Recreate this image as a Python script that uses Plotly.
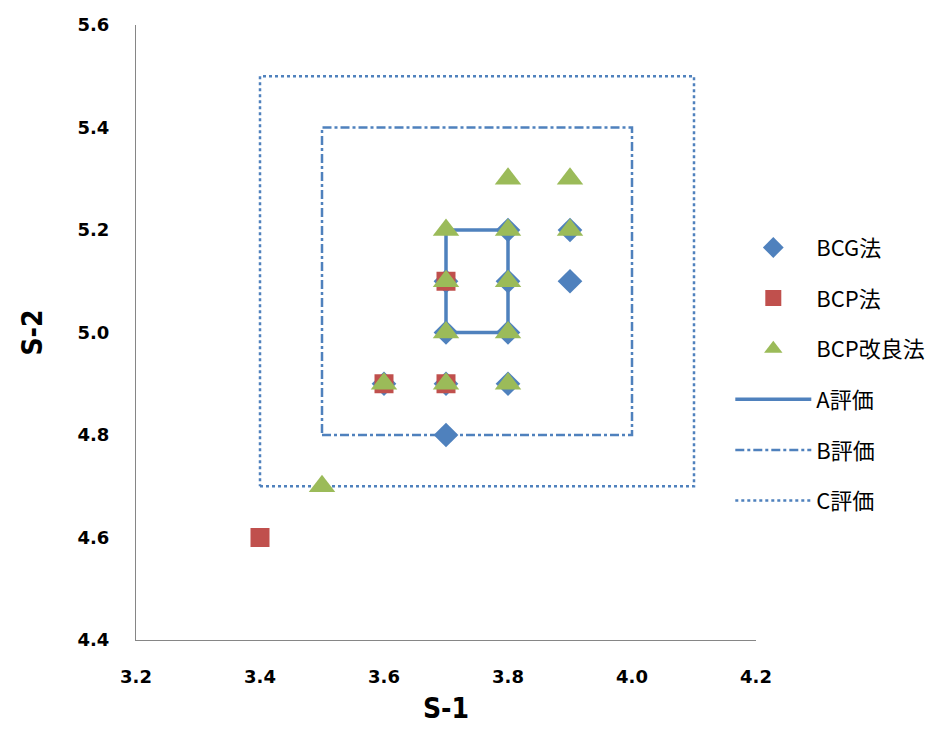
import plotly.graph_objects as go

# Data
bcg_x = [3.6, 3.7, 3.7, 3.7, 3.7, 3.8, 3.8, 3.8, 3.8, 3.9, 3.9]
bcg_y = [4.9, 4.8, 4.9, 5.0, 5.1, 4.9, 5.0, 5.1, 5.2, 5.1, 5.2]
bcp_x = [3.4, 3.6, 3.7, 3.7]
bcp_y = [4.6, 4.9, 4.9, 5.1]
bcpk_x = [3.5, 3.6, 3.7, 3.7, 3.7, 3.7, 3.8, 3.8, 3.8, 3.8, 3.8, 3.9, 3.9]
bcpk_y = [4.7, 4.9, 4.9, 5.0, 5.1, 5.2, 4.9, 5.0, 5.1, 5.2, 5.3, 5.2, 5.3]
a_x = [3.7, 3.8, 3.8, 3.7, 3.7]
a_y = [5.0, 5.0, 5.2, 5.2, 5.0]
b_x = [3.5, 4.0, 4.0, 3.5, 3.5]
b_y = [4.8, 4.8, 5.4, 5.4, 4.8]
c_x = [3.4, 4.1, 4.1, 3.4, 3.4]
c_y = [4.7, 4.7, 5.5, 5.5, 4.7]
x_ticks = [3.2, 3.4, 3.6, 3.8, 4.0, 4.2]
y_ticks = [4.4, 4.6, 4.8, 5.0, 5.2, 5.4, 5.6]

BLUE = "#4F81BD"
RED = "#C0504D"
GREEN = "#9BBB59"

fig = go.Figure()
fig.add_trace(go.Scatter(x=a_x, y=a_y, mode="lines", name="A評価", legendgroup="a",
                         legendrank=4, line=dict(color=BLUE, width=3.5)))
fig.add_trace(go.Scatter(x=b_x, y=b_y, mode="lines", name="B評価", legendgroup="b",
                         legendrank=5, line=dict(color=BLUE, width=2.5, dash="dashdot")))
fig.add_trace(go.Scatter(x=c_x, y=c_y, mode="lines", name="C評価", legendgroup="c",
                         legendrank=6, line=dict(color=BLUE, width=2.5, dash="dot")))
fig.add_trace(go.Scatter(x=bcg_x, y=bcg_y, mode="markers", name="BCG法", legendgroup="g",
                         legendrank=1, marker=dict(symbol="diamond", size=19, color=BLUE)))
fig.add_trace(go.Scatter(x=bcp_x, y=bcp_y, mode="markers", name="BCP法", legendgroup="p",
                         legendrank=2, marker=dict(symbol="square", size=19, color=RED)))
fig.add_trace(go.Scatter(x=bcpk_x, y=bcpk_y, mode="markers", name="BCP改良法", legendgroup="k",
                         legendrank=3, marker=dict(symbol="triangle-up", size=23, color=GREEN)))

axis_common = dict(
    showgrid=False, zeroline=False, showline=True, linecolor="#868686", linewidth=1,
    ticks="", tickfont=dict(family="DejaVu Sans", size=18, color="#000000", weight="bold"),
)
fig.update_xaxes(range=[3.2, 4.2], tickvals=x_ticks, ticktext=[f"{v:.1f}" for v in x_ticks],
                 ticklabelstandoff=20,
                 title=dict(text="S-1", font=dict(family="DejaVu Sans Condensed", size=28, color="#000", weight="bold"), standoff=12),
                 **axis_common)
fig.update_yaxes(range=[4.4, 5.6], tickvals=y_ticks, ticktext=[f"{v:.1f}" for v in y_ticks],
                 ticklabelstandoff=22,
                 title=dict(text="S-2", font=dict(family="DejaVu Sans Condensed", size=28, color="#000", weight="bold"), standoff=26),
                 **axis_common)

fig.update_layout(
    width=941, height=731,
    margin=dict(l=136, r=184, t=25, b=91),
    plot_bgcolor="white", paper_bgcolor="white",
    showlegend=True,
    legend=dict(x=0.957, y=0.672, xanchor="left", yanchor="top",
                font=dict(family="Noto Sans CJK JP", size=22, color="#000"),
                itemwidth=76,
                tracegroupgap=19, bgcolor="rgba(0,0,0,0)"),
)

fig.write_html("out.html")
